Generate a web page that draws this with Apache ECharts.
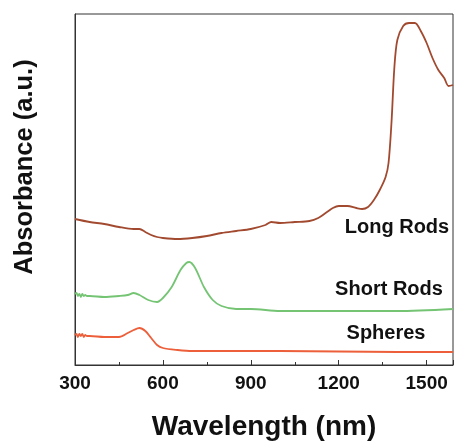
<!DOCTYPE html>
<html>
<head>
<meta charset="utf-8">
<script src="https://cdn.jsdelivr.net/npm/echarts@6/dist/echarts.min.js"></script>
<style>html,body{margin:0;padding:0;background:#fff}#c{width:455px;height:444px}</style>
</head>
<body>
<div id="c"></div>
<script>
var xTicks = [300, 600, 900, 1200, 1500];
var seriesNames = ['Long Rods', 'Short Rods', 'Spheres'];

var longRods = [
  [300,1.46],[350,1.43],[400,1.41],[450,1.38],[500,1.36],[520,1.36],[540,1.33],[560,1.30],[580,1.28],
  [600,1.27],[650,1.26],[700,1.27],[750,1.29],[800,1.32],[850,1.34],[900,1.36],[950,1.40],[970,1.43],
  [1000,1.42],[1050,1.43],[1100,1.44],[1130,1.47],[1160,1.53],[1180,1.57],[1200,1.59],[1230,1.59],
  [1260,1.57],[1280,1.56],[1300,1.58],[1320,1.65],[1340,1.75],[1360,1.88],[1370,2.02],[1380,2.42],
  [1390,2.98],[1400,3.25],[1420,3.39],[1440,3.42],[1460,3.42],[1480,3.34],[1500,3.22],[1520,3.07],
  [1540,2.95],[1560,2.87],[1575,2.79],[1590,2.80]
];
var shortRods = [
  [300,0.71],[305,0.72],[310,0.69],[315,0.71],[320,0.68],[325,0.71],[330,0.69],[335,0.70],[340,0.69],
  [350,0.69],[400,0.68],[450,0.69],[480,0.70],[500,0.72],[520,0.70],[550,0.65],[580,0.63],[600,0.67],
  [630,0.78],[660,0.95],[680,1.02],[690,1.03],[710,0.97],[740,0.78],[770,0.65],[800,0.59],[850,0.56],
  [900,0.56],[1000,0.54],[1200,0.54],[1400,0.54],[1590,0.56]
];
var spheres = [
  [300,0.30],[305,0.31],[310,0.28],[315,0.31],[320,0.29],[325,0.31],[330,0.28],[335,0.30],[340,0.29],
  [350,0.29],[400,0.28],[450,0.28],[480,0.32],[500,0.35],[520,0.37],[540,0.34],[560,0.27],[580,0.20],
  [600,0.17],[650,0.15],[700,0.14],[1000,0.14],[1400,0.13],[1590,0.13]
];

var chart = echarts.init(document.getElementById('c'));
var font = '"Liberation Sans", Arial, sans-serif';
chart.setOption({
  animation: false,
  grid: { left: 75, right: 2, top: 14, bottom: 79, show: true, borderColor: '#333', borderWidth: 1,
    outerBoundsMode: 'none', containLabel: false },
  xAxis: {
    type: 'value', min: 300, max: 1590, interval: 300,
    name: 'Wavelength (nm)', nameLocation: 'middle', nameGap: 48,
    nameTextStyle: { fontFamily: font, fontWeight: 'bold', fontSize: 28, color: '#111' },
    axisLine: { lineStyle: { color: '#333', width: 1 } },
    axisTick: { inside: true, length: 5, lineStyle: { color: '#333' } },
    minorTick: { show: true, splitNumber: 2, length: 3, lineStyle: { color: '#333' } },
    splitLine: { show: false },
    axisLabel: { fontFamily: font, fontWeight: 'bold', fontSize: 19, color: '#111', margin: 9,
      formatter: function (v) { return xTicks.indexOf(v) >= 0 ? String(v) : ''; } }
  },
  yAxis: {
    type: 'value', min: 0, max: 3.51,
    axisLine: { show: true, lineStyle: { color: '#333', width: 1 } },
    axisTick: { show: false }, axisLabel: { show: false }, splitLine: { show: false }
  },
  series: [
    { name: seriesNames[0], type: 'line', data: longRods, showSymbol: false, smooth: 0.3,
      lineStyle: { color: '#a24a30', width: 1.8 } },
    { name: seriesNames[1], type: 'line', data: shortRods, showSymbol: false, smooth: 0.3,
      lineStyle: { color: '#74c474', width: 1.8 } },
    { name: seriesNames[2], type: 'line', data: spheres, showSymbol: false, smooth: 0.3,
      lineStyle: { color: '#ec5f3a', width: 1.8 } }
  ],
  graphic: [
    { type: 'text', x: 25, y: 167, rotation: Math.PI / 2, style: { text: 'Absorbance (a.u.)', align: 'center', verticalAlign: 'middle', font: 'bold 25.5px ' + font, fill: '#111' } },
    { type: 'text', x: 397, y: 227, style: { text: seriesNames[0], align: 'center', verticalAlign: 'middle', font: 'bold 20px ' + font, fill: '#111' } },
    { type: 'text', x: 389, y: 289, style: { text: seriesNames[1], align: 'center', verticalAlign: 'middle', font: 'bold 20px ' + font, fill: '#111' } },
    { type: 'text', x: 386, y: 333, style: { text: seriesNames[2], align: 'center', verticalAlign: 'middle', font: 'bold 20px ' + font, fill: '#111' } }
  ]
});
</script>
</body>
</html>
